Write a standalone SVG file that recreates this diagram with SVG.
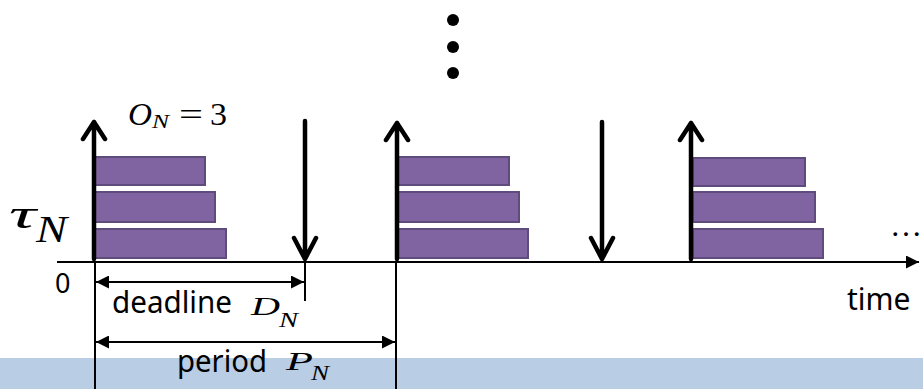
<svg xmlns="http://www.w3.org/2000/svg" width="923" height="389" viewBox="0 0 923 389">
<style>
.bar{fill:#8064A2;stroke:#5F4B7C;stroke-width:2}
.rel{fill:none;stroke:#000;stroke-width:4.5;stroke-linecap:round;stroke-linejoin:round}
.thin{fill:none;stroke:#000;stroke-width:2}
.math{font-family:"Liberation Serif","DejaVu Serif",serif;font-style:italic;fill:#000}
.rm{font-family:"Liberation Serif","DejaVu Serif",serif;fill:#000}
.sans{font-family:"Noto Sans","Liberation Sans",sans-serif;fill:#000}
</style>
<defs>
<marker id="ah" viewBox="0 0 10 10" refX="10" refY="5" markerWidth="15" markerHeight="13" markerUnits="userSpaceOnUse" orient="auto-start-reverse">
<path d="M0,0 L10,5 L0,10 Z" fill="#000"/>
</marker>
</defs>
<rect id="band" x="0" y="358" width="923" height="31" fill="#B9CDE5"/>
<g id="dots" fill="#000">
<circle cx="453" cy="20" r="6"/>
<circle cx="453" cy="47" r="6"/>
<circle cx="453" cy="73" r="6"/>
</g>
<g id="job1">
<rect class="bar" x="95" y="157" width="110" height="28"/>
<rect class="bar" x="95" y="192" width="120" height="30"/>
<rect class="bar" x="95" y="229" width="131" height="29"/>
</g>
<g id="job2">
<rect class="bar" x="398" y="157" width="111" height="28"/>
<rect class="bar" x="398" y="192" width="121" height="30"/>
<rect class="bar" x="398" y="229" width="130" height="29"/>
</g>
<g id="job3">
<rect class="bar" x="693" y="158" width="112" height="28"/>
<rect class="bar" x="693" y="192" width="122" height="30"/>
<rect class="bar" x="693" y="229" width="130" height="29"/>
</g>
<g id="connectors">
<line class="thin" x1="57" y1="262" x2="919" y2="262" stroke-width="2.5" marker-end="url(#ah)"/>
<path class="rel" d="M94,259 V122 M83,139 L94,122 L105,139"/>
<path class="rel" d="M397,259 V123 M386,140 L397,123 L408,140"/>
<path class="rel" d="M691,259 V123 M680,140 L691,123 L702,140"/>
<path class="rel" d="M305,121 V259 M294,238 L305,259 L316,238"/>
<path class="rel" d="M602,122 V259 M591,238 L602,259 L613,238"/>
<line class="thin" x1="305" y1="262" x2="305" y2="301"/>
<line class="thin" x1="95" y1="262" x2="95" y2="389"/>
<line class="thin" x1="396" y1="262" x2="396" y2="389"/>
<line class="thin" x1="96" y1="282" x2="304" y2="282" marker-start="url(#ah)" marker-end="url(#ah)"/>
<line class="thin" x1="96" y1="342" x2="395" y2="342" marker-start="url(#ah)" marker-end="url(#ah)"/>
</g>
<g id="labels">
<text class="math" x="9" y="228" font-size="40" textLength="27" lengthAdjust="spacingAndGlyphs">τ</text>
<text class="math" x="36" y="242" font-size="38" textLength="31" lengthAdjust="spacingAndGlyphs">N</text>
<text class="math" x="128" y="125" font-size="32" textLength="24" lengthAdjust="spacingAndGlyphs">O</text>
<text class="math" x="152" y="128" font-size="19" textLength="17" lengthAdjust="spacingAndGlyphs">N</text>
<text class="rm" x="179" y="125" font-size="32" textLength="24" lengthAdjust="spacingAndGlyphs">=</text>
<text class="rm" x="210" y="125" font-size="32" textLength="17" lengthAdjust="spacingAndGlyphs">3</text>
<text class="sans" x="55" y="293" font-size="27">0</text>
<text class="sans" x="112" y="313" font-size="31" textLength="120" lengthAdjust="spacingAndGlyphs">deadline</text>
<text class="math" x="251" y="315" font-size="26" textLength="29" lengthAdjust="spacingAndGlyphs">D</text>
<text class="math" x="279" y="327" font-size="20" textLength="19" lengthAdjust="spacingAndGlyphs">N</text>
<text class="sans" x="177" y="372" font-size="31" textLength="90" lengthAdjust="spacingAndGlyphs">period</text>
<text class="math" x="286" y="370" font-size="26" textLength="27" lengthAdjust="spacingAndGlyphs">P</text>
<text class="math" x="311" y="380" font-size="20" textLength="18" lengthAdjust="spacingAndGlyphs">N</text>
<text class="sans" x="847" y="310" font-size="30">time</text>
<text class="rm" x="890" y="236" font-size="32">…</text>
</g>
</svg>
